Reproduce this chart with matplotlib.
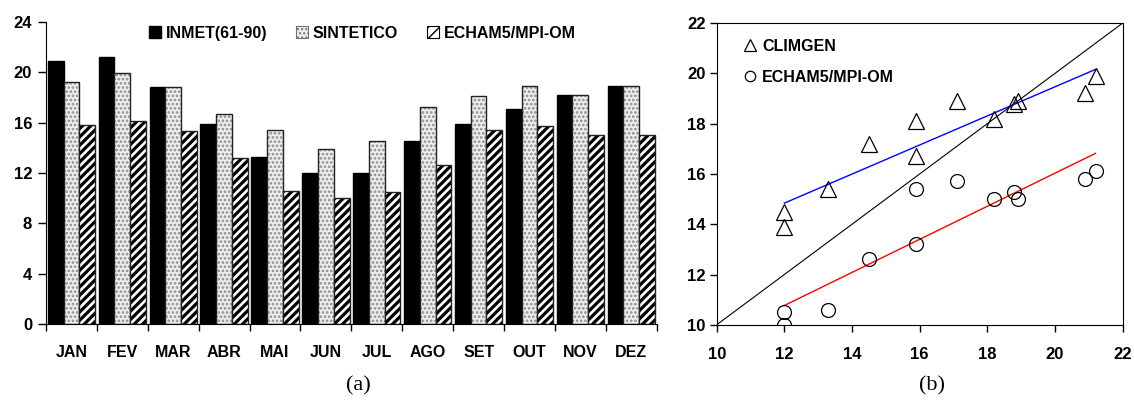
import numpy as np
import matplotlib.pyplot as plt
from matplotlib.patches import Patch
from matplotlib.lines import Line2D

plt.rcParams['font.family'] = ['Liberation Sans', 'DejaVu Sans']
plt.rcParams['font.weight'] = 'bold'

meses = ['JAN', 'FEV', 'MAR', 'ABR', 'MAI', 'JUN', 'JUL', 'AGO', 'SET', 'OUT', 'NOV', 'DEZ']
inmet = [20.9, 21.2, 18.8, 15.9, 13.3, 12.0, 12.0, 14.5, 15.9, 17.1, 18.2, 18.9]
sintetico = [19.2, 19.9, 18.8, 16.7, 15.4, 13.9, 14.5, 17.2, 18.1, 18.9, 18.2, 18.9]
echam = [15.8, 16.1, 15.3, 13.2, 10.6, 10.0, 10.5, 12.6, 15.4, 15.7, 15.0, 15.0]

fig = plt.figure(figsize=(11.34, 4.05), dpi=100)

# (a) barras
ax1 = fig.add_axes([0.0406, 0.2, 0.5385, 0.746])
x = np.arange(len(meses)) + 0.5
w = 0.31
ax1.bar(x - w, inmet, w, color='black', edgecolor='black', lw=1)
with plt.rc_context({'hatch.linewidth': 1.3}):
    ax1.bar(x, sintetico, w, color='#eeeeee', edgecolor='#8c8c8c', hatch='....', lw=0)
    h_sint = Patch(facecolor='#eeeeee', edgecolor='#707070', hatch='....', lw=0.8)
ax1.bar(x, sintetico, w, fill=False, edgecolor='#222222', lw=1)
with plt.rc_context({'hatch.linewidth': 2.3}):
    ax1.bar(x + w, echam, w, color='white', edgecolor='black', hatch='////', lw=0)
    h_echam = Patch(facecolor='white', edgecolor='black', hatch='///', lw=0.8)
ax1.bar(x + w, echam, w, fill=False, edgecolor='#222222', lw=1)

ax1.set_xlim(0, 12)
ax1.set_ylim(0, 24)
ax1.set_yticks(range(0, 25, 4))
ax1.set_xticks(x)
ax1.set_xticklabels(meses)
ax1.set_xticks(np.arange(13), minor=True)
ax1.tick_params(axis='x', which='major', length=0, pad=15, labelsize=11.5)
ax1.tick_params(axis='x', which='minor', length=5, width=1)
ax1.tick_params(axis='y', length=6, width=1, pad=4, labelsize=12)
ax1.spines['top'].set_visible(False)
ax1.spines['right'].set_visible(False)

h_inmet = Patch(facecolor='black', edgecolor='black')
ax1.legend([h_inmet, h_sint, h_echam], ['INMET(61-90)', 'SINTETICO', 'ECHAM5/MPI-OM'],
           ncol=3, frameon=False, loc='upper left', bbox_to_anchor=(0.145, 1.035),
           handlelength=0.75, handleheight=0.75, handletextpad=0.3, columnspacing=1.8,
           fontsize=11.5)

# (b) dispersao
ax2 = fig.add_axes([0.632, 0.198, 0.358, 0.745])
ax2.plot([10, 22], [10, 22], color='black', lw=0.8)
for yv, cor in [(sintetico, 'blue'), (echam, 'red')]:
    a, b = np.polyfit(inmet, yv, 1)
    xs = np.array([min(inmet), max(inmet)])
    ax2.plot(xs, a * xs + b, color=cor, lw=1)
ax2.plot(inmet, sintetico, '^', ms=11, mfc='none', mec='black', mew=0.9)
ax2.plot(inmet, echam, 'o', ms=10, mfc='none', mec='black', mew=0.9)
ax2.set_xlim(10, 22)
ax2.set_ylim(10, 22)
ax2.set_xticks(range(10, 23, 2))
ax2.set_yticks(range(10, 23, 2))
ax2.tick_params(axis='x', length=5, width=1, pad=11, labelsize=12)
ax2.tick_params(axis='y', length=5, width=1, pad=3, labelsize=12)
hl = [Line2D([], [], ls='none', marker='^', ms=9, mfc='none', mec='black', mew=0.9),
      Line2D([], [], ls='none', marker='o', ms=7.5, mfc='none', mec='black', mew=0.9)]
ax2.legend(hl, ['CLIMGEN', 'ECHAM5/MPI-OM'], frameon=False, loc='upper left',
           bbox_to_anchor=(0.035, 0.995), handlelength=0.6, handletextpad=0.45,
           labelspacing=1.0, fontsize=11.5)

fig.text(0.316, 0.035, '(a)', family='Liberation Serif', weight='normal', fontsize=16, ha='center')
fig.text(0.822, 0.035, '(b)', family='Liberation Serif', weight='normal', fontsize=16, ha='center')

fig.savefig('out.png', dpi=100)
